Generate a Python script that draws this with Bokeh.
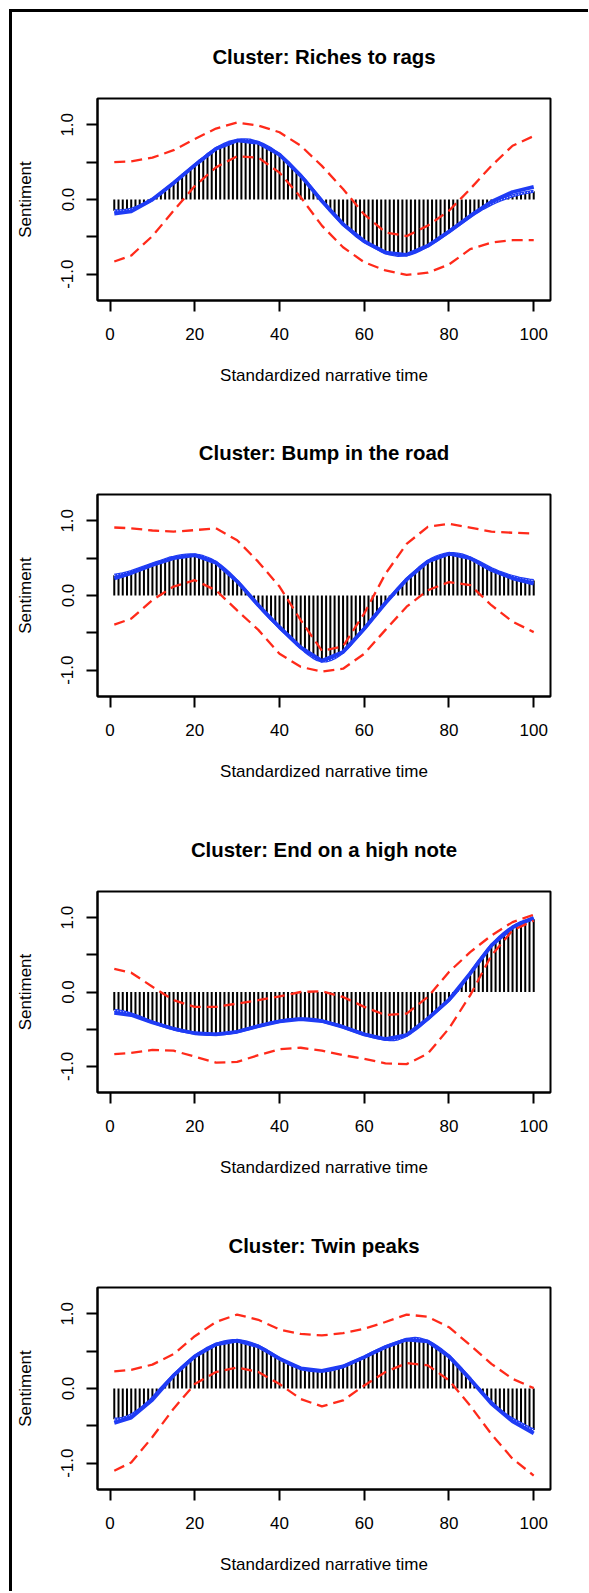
from bokeh.plotting import figure
from bokeh.layouts import column
from bokeh.models import FixedTicker, Range1d, ColumnDataSource
from bokeh.embed import file_html
from bokeh.resources import INLINE

FONT = "Liberation Sans"

titles = ["Cluster: Riches to rags", "Cluster: Bump in the road",
          "Cluster: End on a high note", "Cluster: Twin peaks"]
x_label = "Standardized narrative time"
y_label = "Sentiment"

time_points = list(range(1, 101))
coarse_points = [1, 5, 10, 15, 20, 25, 30, 35, 40, 45, 50, 55, 60, 65, 70, 75, 80, 85, 90, 95, 100]

# cluster mean (bars + dotted line), one value per narrative time point
mean_riches = [-0.15, -0.155, -0.15, -0.14, -0.13, -0.11, -0.085, -0.06, -0.03, 0.0,
               0.04, 0.08, 0.13, 0.175, 0.22, 0.27, 0.32, 0.365, 0.41, 0.46,
               0.51, 0.55, 0.60, 0.64, 0.68, 0.71, 0.74, 0.765, 0.78, 0.79,
               0.80, 0.80, 0.795, 0.78, 0.76, 0.74, 0.71, 0.68, 0.64, 0.60,
               0.55, 0.50, 0.44, 0.38, 0.32, 0.26, 0.19, 0.12, 0.05, -0.02,
               -0.08, -0.15, -0.21, -0.27, -0.33, -0.38, -0.43, -0.48, -0.52, -0.56,
               -0.595, -0.625, -0.655, -0.685, -0.71, -0.73, -0.74, -0.75, -0.745, -0.74,
               -0.725, -0.705, -0.68, -0.65, -0.62, -0.585, -0.55, -0.51, -0.47, -0.43,
               -0.39, -0.35, -0.31, -0.27, -0.23, -0.19, -0.155, -0.12, -0.09, -0.06,
               -0.035, -0.01, 0.01, 0.03, 0.05, 0.065, 0.08, 0.09, 0.10, 0.11]
mean_bump = [0.27, 0.28, 0.29, 0.305, 0.32, 0.34, 0.36, 0.38, 0.40, 0.42,
             0.44, 0.46, 0.48, 0.50, 0.51, 0.525, 0.535, 0.54, 0.545, 0.54,
             0.535, 0.52, 0.50, 0.475, 0.44, 0.40, 0.355, 0.305, 0.25, 0.19,
             0.13, 0.065, 0.0, -0.065, -0.13, -0.195, -0.255, -0.315, -0.37, -0.425,
             -0.48, -0.535, -0.59, -0.645, -0.695, -0.745, -0.79, -0.83, -0.86, -0.875,
             -0.875, -0.86, -0.835, -0.80, -0.755, -0.70, -0.64, -0.575, -0.51, -0.445,
             -0.375, -0.305, -0.235, -0.165, -0.10, -0.035, 0.03, 0.095, 0.155, 0.215,
             0.27, 0.32, 0.37, 0.415, 0.455, 0.49, 0.515, 0.535, 0.55, 0.56,
             0.56, 0.555, 0.545, 0.525, 0.50, 0.475, 0.45, 0.42, 0.39, 0.36,
             0.335, 0.31, 0.29, 0.27, 0.255, 0.24, 0.225, 0.215, 0.205, 0.20]
mean_high = [-0.25, -0.255, -0.265, -0.28, -0.295, -0.315, -0.335, -0.36, -0.385, -0.405,
             -0.425, -0.445, -0.465, -0.48, -0.495, -0.51, -0.525, -0.535, -0.545, -0.555,
             -0.56, -0.565, -0.57, -0.57, -0.57, -0.565, -0.56, -0.555, -0.545, -0.535,
             -0.52, -0.505, -0.49, -0.475, -0.46, -0.445, -0.43, -0.415, -0.405, -0.395,
             -0.385, -0.375, -0.37, -0.365, -0.365, -0.365, -0.365, -0.37, -0.38, -0.39,
             -0.405, -0.42, -0.435, -0.45, -0.47, -0.49, -0.51, -0.53, -0.55, -0.57,
             -0.585, -0.60, -0.615, -0.625, -0.635, -0.64, -0.64, -0.63, -0.61, -0.58,
             -0.545, -0.505, -0.46, -0.41, -0.36, -0.31, -0.26, -0.21, -0.16, -0.105,
             -0.045, 0.02, 0.095, 0.17, 0.25, 0.33, 0.41, 0.485, 0.56, 0.625,
             0.685, 0.74, 0.79, 0.835, 0.87, 0.905, 0.935, 0.955, 0.97, 0.98]
mean_twin = [-0.41, -0.41, -0.40, -0.38, -0.355, -0.32, -0.28, -0.235, -0.185, -0.13,
             -0.065, 0.0, 0.06, 0.12, 0.175, 0.23, 0.285, 0.335, 0.385, 0.43,
             0.47, 0.505, 0.54, 0.565, 0.59, 0.61, 0.625, 0.635, 0.64, 0.64,
             0.635, 0.625, 0.61, 0.59, 0.565, 0.535, 0.505, 0.47, 0.435, 0.40,
             0.37, 0.34, 0.31, 0.29, 0.27, 0.255, 0.245, 0.24, 0.235, 0.235,
             0.24, 0.25, 0.26, 0.275, 0.295, 0.32, 0.345, 0.37, 0.395, 0.42,
             0.45, 0.48, 0.505, 0.53, 0.555, 0.58, 0.60, 0.62, 0.64, 0.655,
             0.665, 0.67, 0.665, 0.65, 0.63, 0.60, 0.565, 0.525, 0.48, 0.43,
             0.375, 0.315, 0.255, 0.19, 0.125, 0.06, 0.0, -0.065, -0.125, -0.185,
             -0.24, -0.29, -0.335, -0.375, -0.41, -0.44, -0.47, -0.50, -0.53, -0.555]

# smoothed fit (thick blue), at the coarse time points
fit_riches = [-0.19, -0.16, 0.0, 0.22, 0.46, 0.68, 0.79, 0.76, 0.60, 0.32, -0.02,
              -0.33, -0.56, -0.71, -0.74, -0.62, -0.43, -0.22, -0.03, 0.10, 0.17]
fit_bump = [0.23, 0.30, 0.41, 0.50, 0.54, 0.44, 0.19, -0.13, -0.425, -0.695, -0.875,
            -0.755, -0.445, -0.10, 0.215, 0.455, 0.56, 0.50, 0.34, 0.23, 0.16]
fit_high = [-0.28, -0.31, -0.41, -0.495, -0.555, -0.57, -0.535, -0.46, -0.395, -0.365, -0.39,
            -0.47, -0.57, -0.635, -0.58, -0.36, -0.105, 0.25, 0.625, 0.87, 1.0]
fit_twin = [-0.46, -0.39, -0.15, 0.175, 0.43, 0.59, 0.64, 0.565, 0.40, 0.27, 0.235,
            0.295, 0.42, 0.555, 0.655, 0.63, 0.43, 0.125, -0.2, -0.44, -0.60]

# confidence band (red dashed), at the coarse time points
upper_riches = [0.50, 0.51, 0.56, 0.66, 0.81, 0.95, 1.03, 0.99, 0.90, 0.72, 0.45,
                0.14, -0.20, -0.44, -0.49, -0.35, -0.15, 0.14, 0.45, 0.72, 0.85]
lower_riches = [-0.83, -0.75, -0.49, -0.15, 0.18, 0.43, 0.58, 0.56, 0.36, 0.03, -0.35,
                -0.64, -0.84, -0.95, -1.01, -0.98, -0.87, -0.665, -0.576, -0.545, -0.545]
upper_bump = [0.91, 0.90, 0.87, 0.855, 0.875, 0.90, 0.74, 0.45, 0.12, -0.33, -0.74,
              -0.68, -0.24, 0.29, 0.69, 0.92, 0.96, 0.91, 0.855, 0.84, 0.83]
lower_bump = [-0.39, -0.31, -0.06, 0.12, 0.205, 0.07, -0.20, -0.46, -0.78, -0.955, -1.02,
              -0.98, -0.78, -0.46, -0.15, 0.07, 0.18, 0.14, -0.13, -0.35, -0.49]
upper_high = [0.31, 0.26, 0.07, -0.11, -0.20, -0.20, -0.156, -0.11, -0.06, 0.0, 0.01,
              -0.067, -0.20, -0.31, -0.29, -0.067, 0.27, 0.536, 0.76, 0.94, 1.04]
lower_high = [-0.835, -0.82, -0.78, -0.79, -0.87, -0.95, -0.94, -0.85, -0.77, -0.75, -0.79,
              -0.85, -0.90, -0.96, -0.97, -0.83, -0.49, -0.045, 0.49, 0.83, 0.96]
upper_twin = [0.23, 0.25, 0.32, 0.46, 0.70, 0.89, 0.99, 0.92, 0.79, 0.73, 0.71,
              0.74, 0.80, 0.89, 0.99, 0.96, 0.82, 0.58, 0.33, 0.13, 0.005]
lower_twin = [-1.10, -0.99, -0.65, -0.27, 0.06, 0.22, 0.28, 0.22, 0.06, -0.14, -0.24,
              -0.16, 0.04, 0.22, 0.34, 0.31, 0.11, -0.23, -0.61, -0.94, -1.165]

x_ticks = [0, 20, 40, 60, 80, 100]
y_ticks = [-1.0, -0.5, 0.0, 0.5, 1.0]
y_tick_labels = {-1.0: "-1.0", -0.5: "", 0.0: "0.0", 0.5: "", 1.0: "1.0"}

panels = [
    (titles[0], mean_riches, fit_riches, upper_riches, lower_riches),
    (titles[1], mean_bump, fit_bump, upper_bump, lower_bump),
    (titles[2], mean_high, fit_high, upper_high, lower_high),
    (titles[3], mean_twin, fit_twin, upper_twin, lower_twin),
]
heights = [396, 397, 396, 390]
tops = [86, 86, 85, 86]

BLUE = "#1f3cf5"
RED = "#ff2a1a"
W = 576
FRAME_W = 453
FRAME_H = 202
LEFT = 85


def make_panel(title, mean, fit, upper, lower, h, top):
    p = figure(width=W, height=h, output_backend="svg", toolbar_location=None,
               x_range=Range1d(-2.96, 103.96), y_range=Range1d(-1.352, 1.352),
               min_border_left=LEFT, min_border_right=W - LEFT - FRAME_W,
               min_border_top=top, min_border_bottom=h - top - FRAME_H,
               background_fill_color="white", border_fill_color="white")
    p.title.text = title
    p.title.align = "center"
    p.title.text_font = FONT
    p.title.text_font_size = "20.4px"
    p.title.text_font_style = "bold"
    p.title.text_color = "black"
    p.title.standoff = 62
    p.outline_line_color = "black"
    p.outline_line_width = 2
    p.xgrid.visible = False
    p.ygrid.visible = False

    for ax in (p.xaxis[0], p.yaxis[0]):
        ax.axis_line_width = 2
        ax.axis_line_color = "black"
        ax.major_tick_line_width = 2
        ax.major_tick_line_color = "black"
        ax.major_tick_out = 11
        ax.major_tick_in = 0
        ax.minor_tick_line_color = None
        ax.major_label_text_font = FONT
        ax.major_label_text_font_size = "17px"
        ax.major_label_text_color = "black"
        ax.axis_label_text_font = FONT
        ax.axis_label_text_font_size = "17px"
        ax.axis_label_text_font_style = "normal"
        ax.axis_label_text_color = "black"

    p.xaxis[0].ticker = FixedTicker(ticks=x_ticks)
    p.xaxis[0].major_label_standoff = 16
    p.xaxis[0].axis_label = x_label
    p.xaxis[0].axis_label_standoff = 23
    p.yaxis[0].ticker = FixedTicker(ticks=y_ticks)
    p.yaxis[0].major_label_overrides = y_tick_labels
    p.yaxis[0].major_label_orientation = "vertical"
    p.yaxis[0].major_label_standoff = 13
    p.yaxis[0].axis_label = y_label
    p.yaxis[0].axis_label_standoff = 24

    src = ColumnDataSource(dict(x=time_points, v=mean))
    p.segment(x0="x", y0=0, x1="x", y1="v", source=src, line_color="black", line_width=2)
    p.line(x="x", y="v", source=src, line_color=BLUE, line_width=3.2)
    p.line(x="x", y="v", source=src, line_color="white", line_width=1, line_dash="1 2")
    p.line(x=coarse_points, y=fit, line_color=BLUE, line_width=3.8, line_join="round")
    p.line(x=coarse_points, y=upper, line_color=RED, line_width=2.3, line_dash="11 6")
    p.line(x=coarse_points, y=lower, line_color=RED, line_width=2.3, line_dash="11 6")
    return p


figs = [make_panel(*panels[i], heights[i], tops[i]) for i in range(4)]
layout = column(*figs, spacing=0,
                styles={"margin-left": "9px", "margin-top": "9px",
                        "border-left": "3px solid black", "border-top": "3px solid black"})

open("out.html", "w").write(file_html(layout, INLINE))
